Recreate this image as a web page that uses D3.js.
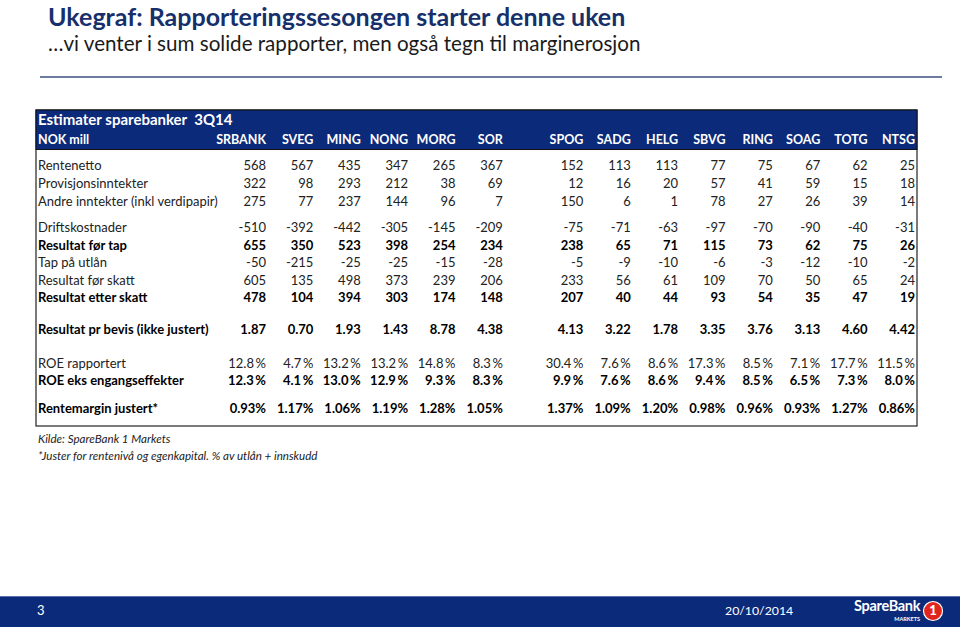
<!DOCTYPE html>
<html><head><meta charset="utf-8">
<script src="https://cdn.jsdelivr.net/npm/d3@7"></script>
<style>
html,body{margin:0;padding:0;background:#fff;}
svg{display:block;font-family:Lato,"Noto Sans",sans-serif;}
</style></head>
<body>
<svg id="chart" width="960" height="631"></svg>
<script>
// ---------- DATA ----------
const title = "Ukegraf: Rapporteringssesongen starter denne uken";
const subtitle = "\u2026vi venter i sum solide rapporter, men også tegn til marginerosjon";
const tableTitle = "Estimater sparebanker\u00a0\u00a03Q14";
const unitLabel = "NOK mill";
const banks = ["SRBANK","SVEG","MING","NONG","MORG","SOR","SPOG","SADG","HELG","SBVG","RING","SOAG","TOTG","NTSG"];

const rentenetto      = [568,567,435,347,265,367,152,113,113,77,75,67,62,25];
const provisjon       = [322,98,293,212,38,69,12,16,20,57,41,59,15,18];
const andreInntekter  = [275,77,237,144,96,7,150,6,1,78,27,26,39,14];
const driftskostnader = [-510,-392,-442,-305,-145,-209,-75,-71,-63,-97,-70,-90,-40,-31];
const resFoerTap      = [655,350,523,398,254,234,238,65,71,115,73,62,75,26];
const tapUtlaan       = [-50,-215,-25,-25,-15,-28,-5,-9,-10,-6,-3,-12,-10,-2];
const resFoerSkatt    = [605,135,498,373,239,206,233,56,61,109,70,50,65,24];
const resEtterSkatt   = [478,104,394,303,174,148,207,40,44,93,54,35,47,19];
const epsIkkeJustert  = [1.87,0.70,1.93,1.43,8.78,4.38,4.13,3.22,1.78,3.35,3.76,3.13,4.60,4.42];
const roeRapportert   = [12.8,4.7,13.2,13.2,14.8,8.3,30.4,7.6,8.6,17.3,8.5,7.1,17.7,11.5];
const roeEksEngang    = [12.3,4.1,13.0,12.9,9.3,8.3,9.9,7.6,8.6,9.4,8.5,6.5,7.3,8.0];
const rentemargin     = [0.93,1.17,1.06,1.19,1.28,1.05,1.37,1.09,1.20,0.98,0.96,0.93,1.27,0.86];

const notes = ["Kilde: SpareBank 1 Markets","*Juster for rentenivå og egenkapital. % av utlån + innskudd"];
const pageNumber = "3";
const dateLabel = "20/10/2014";

// ---------- TABLE DEFINITION ----------
const loc = d3.formatLocale({decimal:".",thousands:"",grouping:[3],currency:["",""],minus:"-"});
const fInt = loc.format("d"), f2 = loc.format(".2f"), f1 = loc.format(".1f");
const fmtInt = v => fInt(v);
const fmtEps = v => f2(v);
const fmtRoe = v => f1(v) + "\u2009%";
const fmtPct = v => f2(v) + "%";

const rows = [
  {label:"Rentenetto", values:rentenetto, fmt:fmtInt, bold:false},
  {label:"Provisjonsinntekter", values:provisjon, fmt:fmtInt, bold:false},
  {label:"Andre inntekter (inkl verdipapir)", values:andreInntekter, fmt:fmtInt, bold:false},
  {label:"Driftskostnader", values:driftskostnader, fmt:fmtInt, bold:false},
  {label:"Resultat før tap", values:resFoerTap, fmt:fmtInt, bold:true},
  {label:"Tap på utlån", values:tapUtlaan, fmt:fmtInt, bold:false},
  {label:"Resultat før skatt", values:resFoerSkatt, fmt:fmtInt, bold:false},
  {label:"Resultat etter skatt", values:resEtterSkatt, fmt:fmtInt, bold:true},
  {label:"Resultat pr bevis (ikke justert)", values:epsIkkeJustert, fmt:fmtEps, bold:true},
  {label:"ROE rapportert", values:roeRapportert, fmt:fmtRoe, bold:false},
  {label:"ROE eks engangseffekter", values:roeEksEngang, fmt:fmtRoe, bold:true},
  {label:"Rentemargin justert*", values:rentemargin, fmt:fmtPct, bold:true}
];

// layout slots (grouping gaps)
const rowSlots = [0,1,2,3.5,4.5,5.5,6.5,7.5,9.3,11.2,12.2,13.8];
const colSlot = i => i + (i >= 6 ? 0.7 : 0);

// ---------- DRAW ----------
const svg = d3.select("#chart");
const navy = "#0c2a7a";

// page title
svg.append("text").attr("x",48).attr("y",25.5).attr("font-size",25).attr("font-weight",700)
  .attr("fill","#17306b").text(title);
svg.append("text").attr("x",48).attr("y",51).attr("font-size",20.6).attr("fill","#1a1a1a").text(subtitle);
svg.append("line").attr("x1",40).attr("x2",942).attr("y1",77).attr("y2",77)
  .attr("stroke","#3d4f80").attr("stroke-width",1.5);

// scales
const x = d3.scaleLinear().domain([0, colSlot(banks.length-1)]).range([266, 915]);
const y = d3.scaleLinear().domain([0, 13.8]).range([167, 410]);

// table frame
const tX0 = 36, tX1 = 917, tY0 = 110, tY1 = 426;
svg.append("rect").attr("x",tX0).attr("y",tY0).attr("width",tX1-tX0).attr("height",tY1-tY0)
  .attr("fill","#fff").attr("stroke","#222").attr("stroke-width",1.2);
svg.append("rect").attr("x",tX0).attr("y",tY0).attr("width",tX1-tX0).attr("height",39.5)
  .attr("fill",navy).attr("stroke","#111").attr("stroke-width",1);

svg.append("text").attr("x",38).attr("y",121.5).attr("dominant-baseline","middle")
  .attr("font-size",15).attr("font-weight",700).attr("fill","#fff").text(tableTitle);
svg.append("text").attr("x",38).attr("y",141).attr("dominant-baseline","middle")
  .attr("font-size",12.5).attr("font-weight",700).attr("fill","#fff").text(unitLabel);

svg.append("g").selectAll("text").data(banks).join("text")
  .attr("x",(d,i)=>x(colSlot(i))).attr("y",141).attr("text-anchor","end")
  .attr("dominant-baseline","middle").attr("font-size",12.5).attr("font-weight",700)
  .attr("fill","#fff").text(d=>d);

const rowG = svg.append("g").selectAll("g").data(rows).join("g")
  .attr("transform",(d,i)=>`translate(0,${y(rowSlots[i])})`)
  .attr("font-weight",d=>d.bold?700:400)
  .attr("fill",d=>d.bold?"#000":"#222");

rowG.append("text").attr("x",38).attr("dominant-baseline","middle").attr("font-size",13)
  .text(d=>d.label);

rowG.selectAll("text.v").data(d=>d.values.map(v=>({v,fmt:d.fmt}))).join("text")
  .attr("class","v").attr("x",(d,i)=>x(colSlot(i))).attr("text-anchor","end")
  .attr("dominant-baseline","middle").attr("font-size",13).text(d=>d.fmt(d.v));

// notes
svg.append("g").selectAll("text").data(notes).join("text")
  .attr("x",38).attr("y",(d,i)=>440+i*17).attr("dominant-baseline","middle")
  .attr("font-size",11.6).attr("font-style","italic").attr("fill","#222").text(d=>d);

// footer
svg.append("rect").attr("x",0).attr("y",596).attr("width",960).attr("height",31).attr("fill",navy);
svg.append("line").attr("x1",0).attr("x2",960).attr("y1",596.5).attr("y2",596.5).attr("stroke","#5a72a8").attr("stroke-width",1);
svg.append("text").attr("x",37).attr("y",612).attr("dominant-baseline","middle")
  .attr("font-size",13).attr("fill","#fff").text(pageNumber);
svg.append("text").attr("x",725).attr("y",612).attr("dominant-baseline","middle")
  .attr("font-size",12.3).attr("fill","#fff").text(dateLabel);
svg.append("text").attr("x",854).attr("y",607).attr("dominant-baseline","middle")
  .attr("font-size",14.5).attr("font-weight",700).attr("fill","#fff").attr("letter-spacing",-0.3).text("SpareBank");
svg.append("text").attr("x",920).attr("y",619.5).attr("text-anchor","end").attr("dominant-baseline","middle")
  .attr("font-size",5.5).attr("font-weight",700).attr("fill","#fff").text("MARKETS");
svg.append("circle").attr("cx",933).attr("cy",611).attr("r",9.5).attr("fill","#e0261c").attr("stroke","#fff").attr("stroke-width",1.2);
svg.append("text").attr("x",933).attr("y",612).attr("text-anchor","middle").attr("dominant-baseline","middle")
  .attr("font-size",13).attr("font-weight",900).attr("fill","#fff").text("1");
</script>
</body></html>
